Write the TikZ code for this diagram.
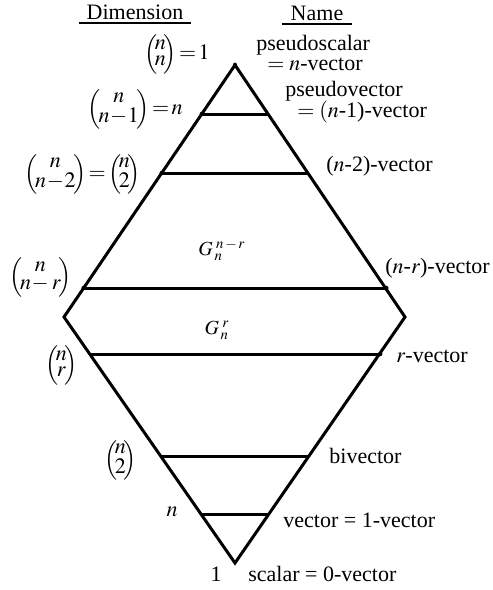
\documentclass[tikz,border=0pt]{standalone}
\usepackage{amsmath}
\usepackage{mathptmx}
\usepackage[no-math]{fontspec}
\setmainfont{Liberation Serif}
\usepackage{tikz}
\usetikzlibrary{positioning,calc}

% stacked binomial with tight rows
\newcommand{\bnm}[2]{\Bigl(\!{\renewcommand\arraystretch{0.62}%
  \begin{array}{@{}c@{}}#1\\#2\end{array}}\!\Bigr)}

\begin{document}
\begin{tikzpicture}[
    x=0.5pt, y=-0.5pt,
    every node/.style={inner sep=0pt,font=\fontsize{11}{13}\selectfont},
    edge/.style={line width=1.5pt,line join=miter},
    grade/.style={line width=1.5pt},
    head/.style={inner xsep=0pt,inner ysep=1.5pt},
    rule/.style={line width=1pt},
    dot/.style={circle,fill,inner sep=0pt,minimum size=2.2pt},
    glabel/.style={font=\fontsize{10}{12}\selectfont},
  ]
  \useasboundingbox (0,0) rectangle (493,590);

  % --- diamond ---
  \coordinate (top)   at (235,65);
  \coordinate (left)  at (64,317);
  \coordinate (right) at (405,317);
  \coordinate (bot)   at (235,563);
  \draw[edge] (top) -- (left) -- (bot) -- (right) -- cycle;

  % --- grade lines, upper half ---
  \foreach \name/\yy in {pv/114, nm2/173, nmr/288} {
    \coordinate (\name-l) at ({235-0.67857*(\yy-65)}, \yy);
    \coordinate (\name-r) at ({235+0.67857*(\yy-65)}, \yy);
    \draw[grade] (\name-l) -- (\name-r);
  }
  % --- grade lines, lower half ---
  \foreach \name/\yy in {rv/354, bv/456, vec/514} {
    \coordinate (\name-l) at ({235-0.69512*(563-\yy)}, \yy);
    \coordinate (\name-r) at ({235+0.69512*(563-\yy)}, \yy);
    \draw[grade] (\name-l) -- (\name-r);
  }
  \foreach \p in {top, pv-l, nm2-l, nmr-l, nmr-r, rv-r}
    \node[dot] at (\p) {};

  % --- headings ---
  \node[head,minimum width=56pt] (dim) at (135,12) {Dimension};
  \draw[rule] (dim.south west) -- (dim.south east);
  \node[head,minimum width=35pt] (nam) at (317,13) {Name};
  \draw[rule] (nam.south west) -- (nam.south east);

  % --- dimensions ---
  \node[anchor=east] (d-n)   at (210,54)  {$\bnm{n}{n}\!=\!1$};
  \node[anchor=east] (d-nm1) at (183,109) {$\bnm{n}{n\!-\!1}\!=\!n$};
  \node[anchor=east] (d-nm2) at (141,174) {$\bnm{n}{n\!-\!2}\!=\!\bnm{n}{2}$};
  \node[anchor=east] (d-nmr) at (72,277)  {$\bnm{n}{n\!-r}$};
  \node[anchor=east] (d-r)   at (78,365)  {$\bnm{n}{r}$};
  \node[anchor=east] (d-2)   at (137,460) {$\bnm{n}{2}$};
  \node (d-1v) at (172,512) {$n$};
  \node (d-0v) at (216,574) {1};

  % --- names ---
  \node[anchor=west] (ps1) at (256,45)  {pseudoscalar};
  \node[anchor=west] (ps2) at (267,64)  {$=n$-vector};
  \node[anchor=west] (pv1) at (285,91)  {pseudovector};
  \node[anchor=west] (pv2) at (297,112) {$=(n$-1)-vector};
  \node[anchor=west] (n-nm2) at (326,166) {($n$-2)-vector};
  \node[anchor=west] (n-nmr) at (385,268) {($n$-$r$)-vector};
  \node[anchor=west] (n-r)   at (396,356) {$r$-vector};
  \node[anchor=west] (n-bv)  at (329,456) {bivector};
  \node[anchor=west] (n-vec) at (283,520) {vector = 1-vector};
  \node[anchor=west] (n-sc)  at (248,574) {scalar = 0-vector};

  % --- subspaces ---
  \node[glabel] (g-nmr) at (222,250) {$G_{\,n}^{\;n\,-\,r}$};
  \node[glabel] (g-r)   at (217,330) {$G_{\,n}^{\;r}$};

\end{tikzpicture}
\end{document}
